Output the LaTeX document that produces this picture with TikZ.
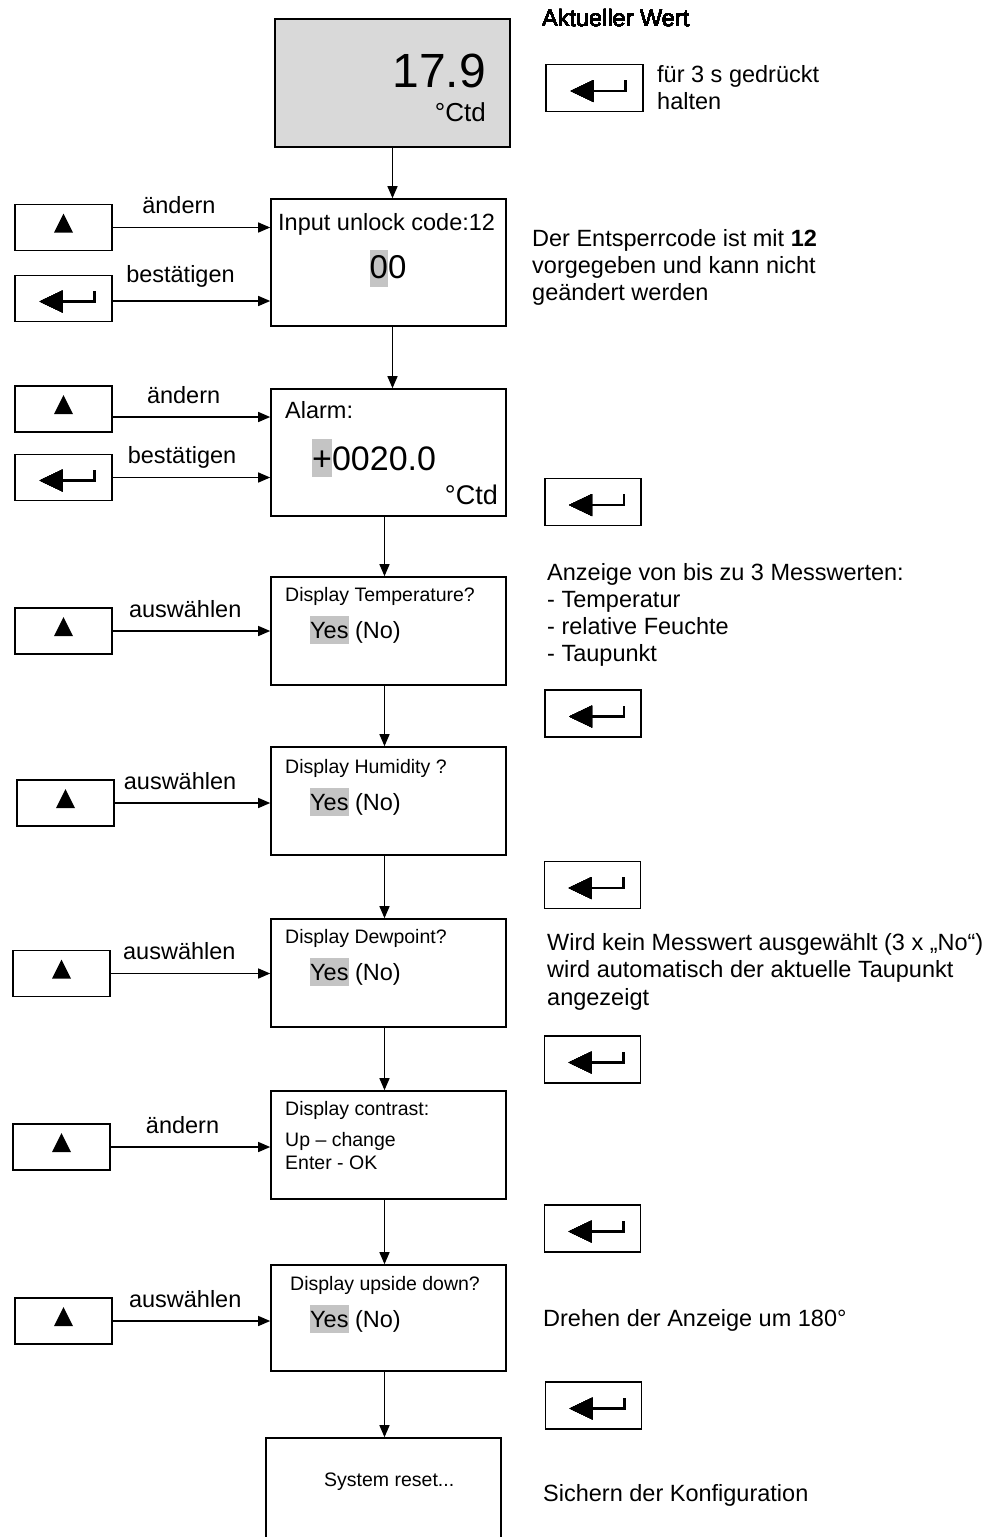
\documentclass[tikz,border=0pt]{standalone}
\usepackage{fontspec}
\setmainfont{Liberation Sans}
\usetikzlibrary{arrows.meta,positioning}
\definecolor{ScreenFill}{HTML}{D9D9D9}
\definecolor{MarkFill}{HTML}{C4C4C4}
\newcommand\bigfont{\fontsize{23.5}{27}\selectfont}
\newcommand\menufont{\fontsize{19.5}{22.5}\selectfont}
% grey cursor behind the selected part of a display text
\newcommand\selmark[3]{{\setlength{\fboxsep}{0pt}\colorbox{MarkFill}{\rule[-#1pt]{0pt}{#2pt}#3}}}
% key symbols, drawn relative to the key node
\newcommand\upkey[1]{\fill ([shift={(-9.5,5)}]#1.center) -- ++(19,0) -- ++(-9.5,-19) -- cycle;}
\newcommand\enterkey[1]{\fill ([shift={(-24,3)}]#1.center) -- ++(23,-11) -- ++(0,22) -- cycle;
 \draw[line width=2.4pt] ([shift={(-2,3)}]#1.center) -- ++(33,0) -- ++(0,-11);}
\tikzset{>={Triangle[length=12pt,width=10pt]},screen/.style={draw,line width=1.6pt,
 minimum width=235pt,inner sep=0pt},key/.style={draw,line width=1.6pt,minimum width=97pt,
 minimum height=46pt,inner sep=0pt},flow/.style={->,line width=1.3pt},
 txt/.style={inner sep=0pt,font=\bigfont},menu/.style={inner sep=0pt,font=\menufont,anchor=base west},
 lbl/.style={inner sep=0pt,font=\bigfont,anchor=base,yshift=14pt},
 note/.style={inner sep=0pt,font=\bigfont,align=left,anchor=base west}}
\begin{document}
\begin{tikzpicture}[x=1pt,y=-1pt]
\useasboundingbox (0,0) rectangle (996,1537);
\clip (0,0) rectangle (996,1537);
% display screens
\node[screen,fill=ScreenFill,minimum height=128pt] (disp) at (392.5,83) {};
\node[screen,minimum height=127pt] (unlock) at (388.5,262.5) {};
\node[screen,minimum height=127pt] (alarm) at (388.5,452.5) {};
\node[screen,minimum height=108pt] (temp) at (388.5,631) {};
\node[screen,minimum height=108pt] (humi) at (388.5,801) {};
\node[screen,minimum height=108pt] (dew) at (388.5,973) {};
\node[screen,minimum height=108pt] (contr) at (388.5,1145) {};
\node[screen,minimum height=106pt] (flip) at (388.5,1318) {};
\node[screen,minimum height=130pt] (reset) at (383.5,1503) {};
\coordinate (col) at (384.5,0);
% screen texts
\node[txt,font=\fontsize{48}{52}\selectfont,anchor=base east] (val) at (486,87) {17.9};
\node[txt,font=\fontsize{26}{30}\selectfont,anchor=base east] (valu) at (486,121.5) {°Ctd};
\node[txt,anchor=base west] (codet) at (278,230) {Input unlock code:12};
\node[txt,font=\fontsize{33}{38}\selectfont,anchor=base] (code) at (388,278) {\selmark{9}{37}{0}0};
\node[txt,anchor=base west] (alarmt) at (285,418) {Alarm:};
\node[txt,font=\fontsize{34}{38}\selectfont,anchor=base west] (alarmv) at (312,470) {\selmark{7}{38}{+}0020.0};
\node[txt,font=\fontsize{27}{30}\selectfont,anchor=base east] (alarmu) at (498,504) {°Ctd};
\node[menu] (tempt) at (285,601.5) {Display Temperature?};
\node[txt,anchor=base west] (tempv) at (310,638) {\selmark{6}{28}{Yes} (No)};
\node[menu] (humit) at (285,773.5) {Display Humidity ?};
\node[txt,anchor=base west] (humiv) at (310,810) {\selmark{6}{28}{Yes} (No)};
\node[menu] (dewt) at (285,943) {Display Dewpoint?};
\node[txt,anchor=base west] (dewv) at (310,980) {\selmark{6}{28}{Yes} (No)};
\node[menu] (contrt) at (285,1115) {Display contrast:};
\node[menu,align=left] (contrv) at (285,1169) {Up – change\\Enter - OK};
\node[menu] (flipt) at (290,1290) {Display upside down?};
\node[txt,anchor=base west] (flipv) at (310,1327) {\selmark{6}{28}{Yes} (No)};
\node[menu] (resett) at (324,1486.5) {System reset...};
% screen to screen
\draw[flow] (disp) -- (disp.south |- unlock.north);
\draw[flow] (unlock.south -| disp.south) -- (alarm.north -| disp.south);
\foreach \a/\b in {alarm/temp,temp/humi,humi/dew,dew/contr,contr/flip,flip/reset}
 \draw[flow] (\a.south -| col) -- (\b.north -| col);
% keys on the left
\node[key] (up1) at (63.5,227.5) {};
\node[key] (ent1) at (63.5,298.5) {};
\node[key] (up2) at (63.5,409) {};
\node[key] (ent2) at (63.5,477.5) {};
\node[key] (up3) at (63.5,631) {};
\node[key] (up4) at (65.5,803) {};
\node[key] (up5) at (61.5,973.5) {};
\node[key] (up6) at (61.5,1147) {};
\node[key] (up7) at (63.5,1321) {};
\draw[flow] (up1) -- (up1 -| unlock.west) node[lbl,pos=.42] {ändern};
\draw[flow] ([yshift=-2.5pt]ent1.east) coordinate (s1) -- (s1 -| unlock.west) node[lbl,pos=.43,yshift=5pt] {bestätigen};
\draw[flow] ([yshift=-8pt]up2.east) coordinate (s2) -- (s2 -| alarm.west) node[lbl,pos=.45] {ändern};
\draw[flow] (ent2) -- (ent2 -| alarm.west) node[lbl,pos=.44] {bestätigen};
\draw[flow] (up3) -- (up3 -| temp.west) node[lbl,pos=.46] {auswählen};
\draw[flow] (up4) -- (up4 -| humi.west) node[lbl,pos=.42] {auswählen};
\draw[flow] (up5) -- (up5 -| dew.west) node[lbl,pos=.43] {auswählen};
\draw[flow] (up6) -- (up6 -| contr.west) node[lbl,pos=.45] {ändern};
\draw[flow] (up7) -- (up7 -| flip.west) node[lbl,pos=.46] {auswählen};
% enter keys on the right
\node[key,minimum height=47pt] (ret0) at (594.5,88) {};
\node[key,minimum width=96pt,minimum height=47pt] (ret1) at (593,502) {};
\node[key,minimum width=96pt,minimum height=47pt] (ret2) at (593,713.5) {};
\node[key,minimum width=96pt,minimum height=47pt] (ret3) at (592.5,885) {};
\node[key,minimum width=96pt,minimum height=47pt] (ret4) at (592.5,1059.5) {};
\node[key,minimum width=96pt,minimum height=47pt] (ret5) at (592.5,1228.5) {};
\node[key,minimum width=96pt,minimum height=47pt] (ret6) at (593.5,1405.5) {};
\foreach \k in {up1,up2,up3,up4,up5,up6,up7} \upkey{\k}
\foreach \k in {ent1,ent2,ret0,ret1,ret2,ret3,ret4,ret5,ret6} \enterkey{\k}
% notes (multi-line nodes sit on their last line)
\node[note] (n0) at (542,26) {Aktueller Wert};
\node[note] (n1) at (657,109) {für 3 s gedrückt\\halten};
\node[note] (n2) at (532,300) {Der Entsperrcode ist mit \textbf{12}\\vorgegeben und kann nicht\\geändert werden};
\node[note] (n3) at (547,661.5) {Anzeige von bis zu 3 Messwerten:\\- Temperatur\\- relative Feuchte\\- Taupunkt};
\node[note,font=\fontsize{23.5}{27.5}\selectfont] (n4) at (547,1005) {Wird kein Messwert ausgewählt (3 x „No“)\\wird automatisch der aktuelle Taupunkt\\angezeigt};
\node[note] (n5) at (543,1326.5) {Drehen der Anzeige um 180°};
\node[note] (n6) at (543,1501.5) {Sichern der Konfiguration};
\end{tikzpicture}
\end{document}
